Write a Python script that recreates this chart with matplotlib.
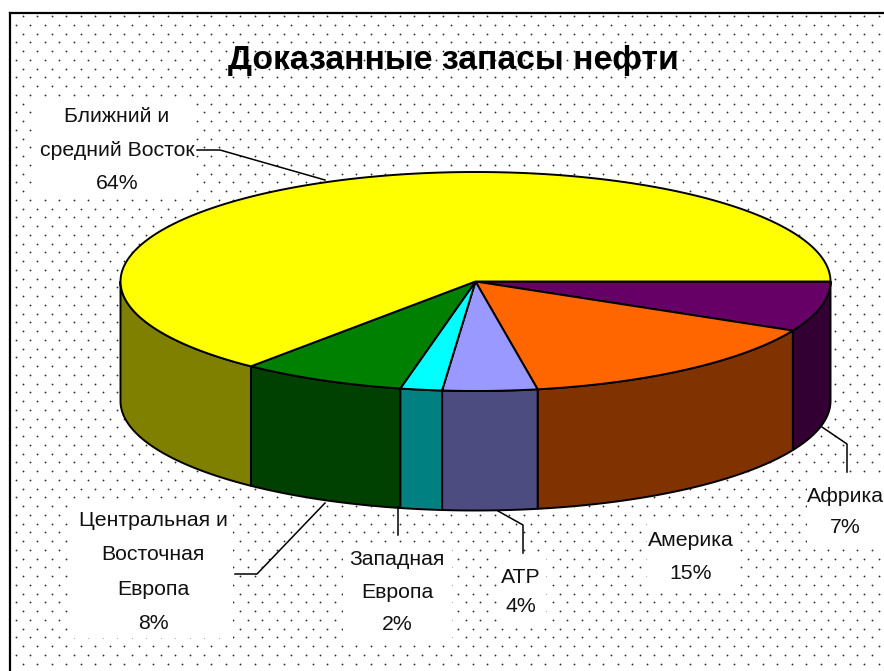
import numpy as np
import matplotlib
matplotlib.use("Agg")
import matplotlib.pyplot as plt
from matplotlib.patches import Polygon, Rectangle

plt.rcParams['font.family'] = ['Liberation Sans', 'DejaVu Sans']

title = "Доказанные запасы нефти"
names = ["Африка", "Америка", "АТР", "Западная\nЕвропа",
         "Центральная и\nВосточная\nЕвропа", "Ближний и\nсредний Восток"]
shares = [7.4, 14.8, 4.3, 1.9, 7.5, 64.1]
top_colors = ["#660066", "#FF6600", "#9999FF", "#00FFFF", "#008000", "#FFFF00"]
side_colors = ["#330033", "#803300", "#4C4C80", "#008080", "#004000", "#808000"]

# label layout: centre x, centre y, line spacing, white mask box (x0, y0, x1, y1)
label_pos = [(845, 512), (691, 557), (521, 592), (397, 592), (153, 572), (117, 150)]
label_gap = [1.78, 1.98, 1.72, 1.92, 2.03, 1.98]
masks = [(807, 473, 884, 546), (647, 523, 740, 591), (497, 554, 546, 624),
         (343, 543, 452, 640), (73, 503, 233, 638), (33, 100, 196, 196)]
leaders = [[(822, 427), (847, 444), (847, 472)],
           [(498, 511), (523, 525), (523, 553)],
           [(398, 507), (398, 535)],
           [(325, 503), (257, 574), (235, 574)],
           [(325, 180), (220, 150), (197, 150)]]

CX, CY, RX, RY, DEPTH = 475.5, 281.5, 355, 109.5, 119.5

fig = plt.figure(figsize=(8.84, 6.71), dpi=100, facecolor="white")
ax = fig.add_axes([0, 0, 1, 1])
ax.set_xlim(0, 884)
ax.set_ylim(671, 0)
ax.axis("off")

# stippled chart area
xs, ys = [], []
for r, y in enumerate(np.arange(16, 671, 8.75)):
    for x in np.arange(22.7 if r % 2 == 0 else 15.7, 884, 14.51):
        xs.append(x)
        ys.append(y)
ax.scatter(xs, ys, s=1.7, c="#2a2a2a", marker="o", linewidths=0, zorder=1)

for x0, y0, x1, y1 in masks:
    ax.add_patch(Rectangle((x0, y0), x1 - x0, y1 - y0, fc="white", ec="none", zorder=2))

# chart frame
ax.plot([10, 10], [671, 12.5], color="black", lw=1.6, zorder=3)
ax.plot([10, 884], [12.5, 12.5], color="black", lw=1.6, zorder=3)


def arc(a0, a1):
    t = np.radians(np.linspace(a0, a1, 160))
    return CX + RX * np.cos(t), CY + RY * np.sin(t)


edges = np.concatenate([[0], np.cumsum(shares)]) * 3.6
# side walls
for i in range(len(shares)):
    a0, a1 = edges[i], min(edges[i + 1], 180)
    if a0 >= 180:
        continue
    x, y = arc(a0, a1)
    pts = np.column_stack([np.r_[x, x[::-1]], np.r_[y, y[::-1] + DEPTH]])
    ax.add_patch(Polygon(pts, closed=True, fc=side_colors[i], ec="black", lw=1.4,
                         joinstyle="round", zorder=4))
# top faces
for i in range(len(shares)):
    x, y = arc(edges[i], edges[i + 1])
    pts = np.column_stack([np.r_[CX, x], np.r_[CY, y]])
    ax.add_patch(Polygon(pts, closed=True, fc=top_colors[i], ec="black", lw=1.4,
                         joinstyle="round", zorder=5))

for pts in leaders:
    p = np.array(pts)
    ax.plot(p[:, 0], p[:, 1], color="black", lw=1.1, zorder=6)

for name, share, (x, y), gap in zip(names, shares, label_pos, label_gap):
    ax.text(x, y, f"{name}\n{round(share)}%", ha="center", va="center", fontsize=15.3,
            color="#111111", linespacing=gap, zorder=7)

ax.text(453, 60, title, ha="center", va="center", fontsize=24.3, fontweight="bold",
        color="black", zorder=7)

fig.savefig("out.png", dpi=100, facecolor="white")
